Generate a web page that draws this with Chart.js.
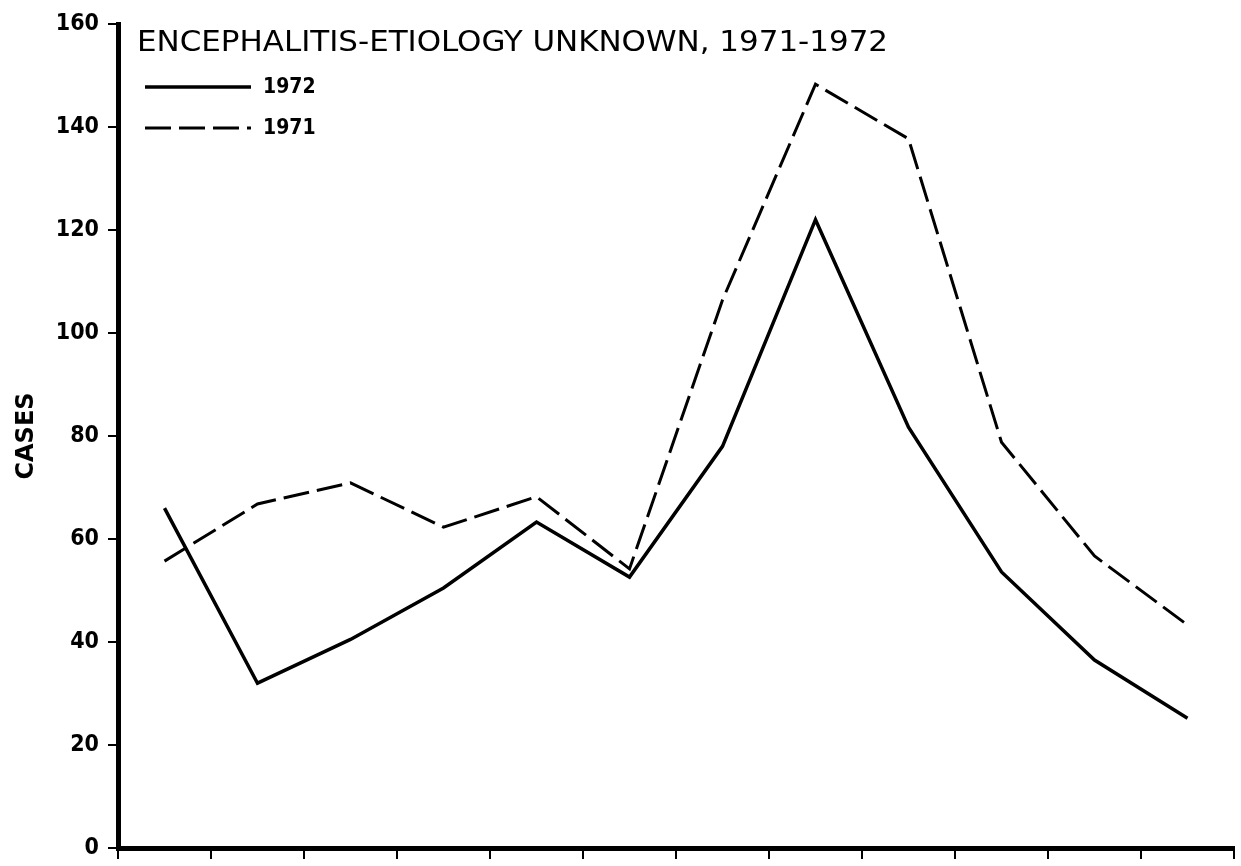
<!DOCTYPE html>
<html>
<head>
<meta charset="utf-8">
<title>Encephalitis</title>
<script src="https://cdn.jsdelivr.net/npm/chart.js@4.4.1/dist/chart.umd.min.js"></script>
<style>
    html, body { margin: 0; padding: 0; background: #fff; }
    #wrap { width: 1241px; height: 866px; }
</style>
</head>
<body>
<div id="wrap"><canvas id="myChart" width="1241" height="866"></canvas></div>
<script>
const months = ["JAN", "FEB", "MAR", "APR", "MAY", "JUN", "JUL", "AUG", "SEP", "OCT", "NOV", "DEC"];
const cases1972 = [66, 32, 40.5, 50.5, 63.3, 52.6, 78, 122, 81.7, 53.6, 36.5, 25.2];
const cases1971 = [55.7, 66.8, 70.9, 62.3, 68.2, 54.2, 106.4, 148.3, 137.7, 78.8, 56.7, 43.3];
const titleText = "ENCEPHALITIS-ETIOLOGY UNKNOWN, 1971-1972";

let ctx;
let myChart;

// title + legend sit inside the plot, drawn by hand
const insideLabels = {
    id: "insideLabels",
    afterDraw(chart) {
        const c = chart.ctx;
        const area = chart.chartArea;
        c.save();
        c.fillStyle = "#000";
        c.textBaseline = "alphabetic";
        c.font = "29px 'DejaVu Sans Condensed'";
        const w = c.measureText(titleText).width;
        c.translate(area.left + 19, 51);
        c.scale(751 / w, 1);
        c.fillText(titleText, 0, 0);
        c.restore();

        c.save();
        c.font = "bold 21px 'DejaVu Sans Condensed'";
        c.textBaseline = "middle";
        chart.data.datasets.forEach((ds, i) => {
            const y = 87 + i * 41;
            c.beginPath();
            c.strokeStyle = ds.borderColor;
            c.lineWidth = ds.borderWidth;
            c.setLineDash(ds.borderDash || []);
            c.moveTo(area.left + 27, y);
            c.lineTo(area.left + 133, y);
            c.stroke();
            c.fillStyle = "#000";
            c.fillText(ds.label, area.left + 145, y + 1);
        });
        c.restore();
    }
};

ctx = document.getElementById("myChart");

myChart = new Chart(ctx, {
    type: "line",
    data: {
        labels: months,
        datasets: [{
            label: "1972",
            data: cases1972,
            borderColor: "#000",
            borderWidth: 3.5,
            pointRadius: 0,
            tension: 0
        }, {
            label: "1971",
            data: cases1971,
            borderColor: "#000",
            borderWidth: 3,
            borderDash: [26, 8],
            pointRadius: 0,
            tension: 0
        }]
    },
    options: {
        responsive: false,
        animation: false,
        layout: { padding: { left: 8, right: 7, top: 24, bottom: 0 } },
        plugins: {
            legend: { display: false },
            tooltip: { enabled: false }
        },
        scales: {
            x: {
                offset: true,
                grid: { offset: true, drawOnChartArea: false, color: "#000", lineWidth: 2, tickLength: 11 },
                border: { color: "#000", width: 5 },
                ticks: { display: false },
                afterFit: (scale) => { scale.height = 18; }
            },
            y: {
                min: 0,
                max: 160,
                ticks: {
                    stepSize: 20,
                    color: "#000",
                    padding: 9,
                    font: { family: "'DejaVu Sans Condensed'", size: 23, weight: "bold" }
                },
                grid: { drawOnChartArea: false, color: "#000", lineWidth: 2, tickLength: 10 },
                border: { color: "#000", width: 5 },
                title: {
                    display: true,
                    text: "CASES",
                    color: "#000",
                    padding: { top: 4, bottom: 0 },
                    font: { family: "'DejaVu Sans'", size: 24, weight: "bold" }
                },
                afterFit: (scale) => {
                    scale.width = 110;
                    scale.paddingTop = 0;
                    scale.paddingBottom = 0;
                }
            }
        }
    },
    plugins: [insideLabels]
});
</script>
</body>
</html>
